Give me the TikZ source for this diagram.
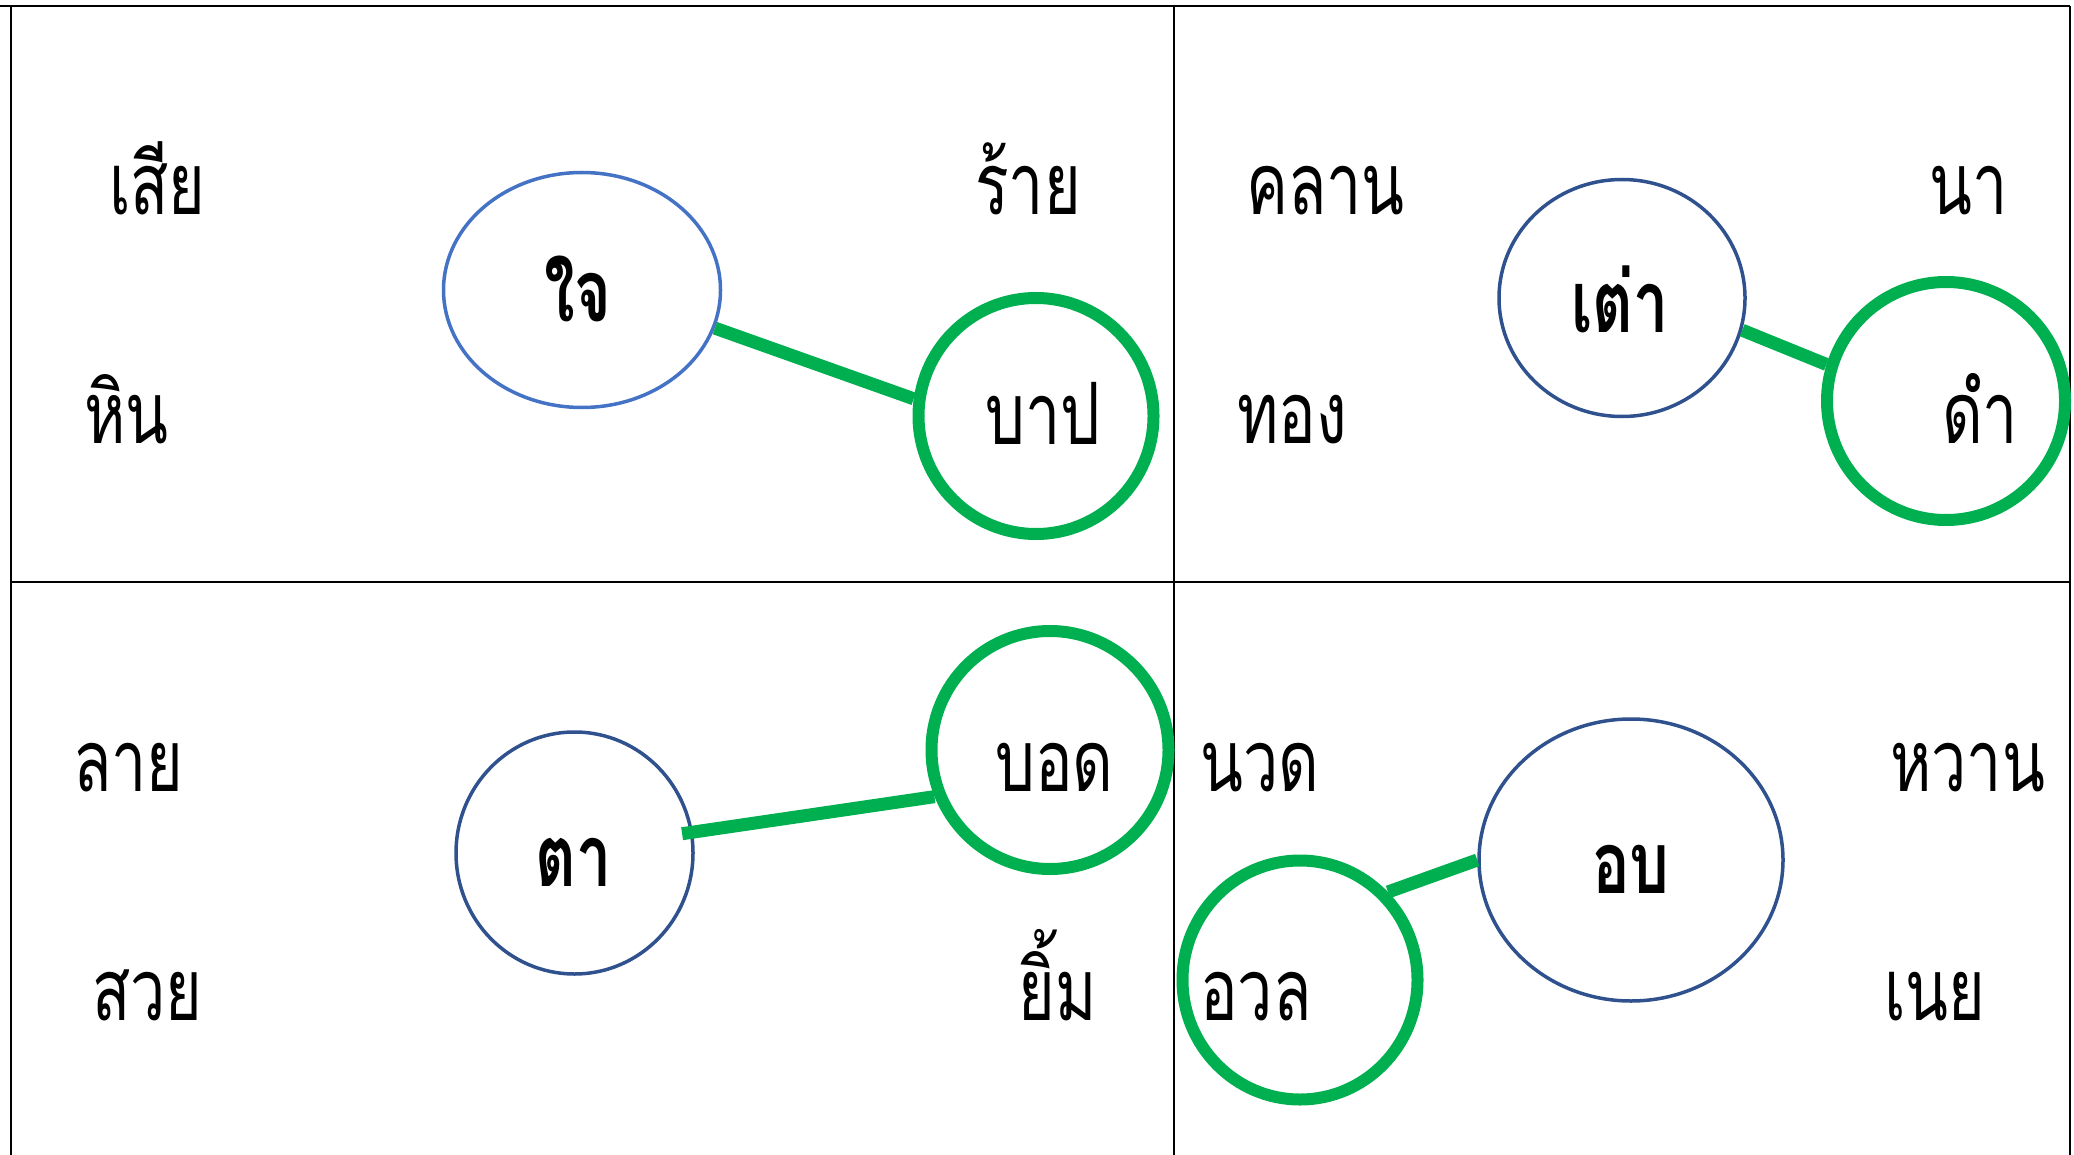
\documentclass[tikz,border=0pt]{standalone}
\usepackage{fontspec}
\newfontfamily\thai[Script=Thai,FakeStretch=0.73]{Loma}
\usetikzlibrary{shapes.geometric}
\definecolor{gr}{HTML}{00B050}
\definecolor{blueA}{HTML}{4472C4}
\definecolor{blueB}{HTML}{2F528F}
\begin{document}
\begin{tikzpicture}[x=1pt,y=-1pt,
  word/.style={font=\thai\fontsize{86}{100}\selectfont, anchor=base west, inner sep=0pt},
  midword/.style={font=\thai\bfseries\fontsize{86}{100}\selectfont, anchor=base, inner sep=0pt},
  bell/.style={draw=#1, line width=3.5pt, ellipse, inner sep=0pt},
  gell/.style={draw=gr, line width=12pt, ellipse, inner sep=0pt},
  conn/.style={draw=gr, line width=13pt},
  gridline/.style={line width=2.2pt, black}]
\useasboundingbox (0,0) rectangle (2074,1155);
% table
\coordinate (tl) at (11,6);
\coordinate (tr) at (2070,6);
\coordinate (bl) at (11,1155);
\coordinate (br) at (2070,1155);
\coordinate (tm) at (1174,6);
\coordinate (bm) at (1174,1155);
\coordinate (ml) at (11,582);
\coordinate (mr) at (2070,582);
\draw[gridline] (0,6) -- (tr);
\draw[gridline] (tl) -- (bl);
\draw[gridline] (tr) -- (br);
\draw[gridline] (tm) -- (bm);
\draw[gridline] (ml) -- (mr);
% ellipses
\node[bell=blueA, minimum width=277, minimum height=235] (je) at (582,290) {};
\node[gell, minimum width=235, minimum height=236] (bap) at (1036,416) {};
\node[bell=blueB, minimum width=246, minimum height=237] (tao) at (1622,298) {};
\node[gell, minimum width=238, minimum height=238] (dam) at (1946,401) {};
\node[bell=blueB, minimum width=237, minimum height=242] (ta) at (574.5,853) {};
\node[gell, minimum width=237, minimum height=238] (bod) at (1050,750) {};
\node[bell=blueB, minimum width=304, minimum height=282] (ob) at (1631,860) {};
\node[gell, minimum width=235, minimum height=239] (oal) at (1300,980) {};
% connectors
\draw[conn] (je.-16) -- (bap.172);
\draw[conn] (tao.-15) -- (dam.163);
\draw[conn, shorten <=-11pt] (ta.10) -- (bod.-158);
\draw[conn] (oal.45) -- (ob.180);
% words
\node[word] (w1) at (109,215) {เสีย};
\node[word] (w2) at (975,215) {ร้าย};
\node[word] (w3) at (84,443) {หิน};
\node[word] (w4) at (985,444) {บาป};
\node[midword] (w5) at (578,322) {ใจ};
\node[word] (w6) at (1246,215) {คลาน};
\node[word] (w7) at (1929,215) {นา};
\node[midword] (w8) at (1620,333) {เต่า};
\node[word] (w9) at (1237,443) {ทอง};
\node[word] (w10) at (1942,443) {ดำ};
\node[word] (w11) at (73,791) {ลาย};
\node[midword] (w12) at (574,886) {ตา};
\node[word] (w13) at (995,791) {บอด};
\node[word] (w14) at (92,1020) {สวย};
\node[word] (w15) at (1018,1020) {ยิ้ม};
\node[word] (w16) at (1200,791) {นวด};
\node[word] (w17) at (1890,791) {หวาน};
\node[midword] (w18) at (1631,893) {อบ};
\node[word] (w19) at (1200,1020) {อวล};
\node[word] (w20) at (1884,1020) {เนย};
\end{tikzpicture}
\end{document}
